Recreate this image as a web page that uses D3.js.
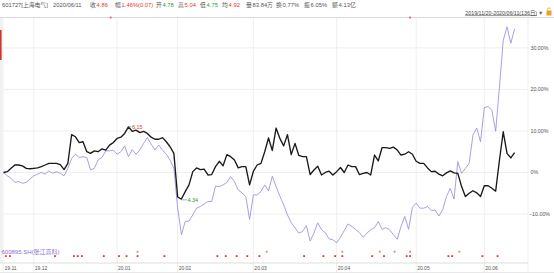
<!DOCTYPE html>
<html><head><meta charset="utf-8">
<script src="https://cdn.jsdelivr.net/npm/d3@7"></script>
<style>
body{margin:0;background:#fff}
svg{display:block}
text{font-family:"Liberation Sans","Noto Sans CJK SC",sans-serif}
</style>
</head><body>
<svg id="c" width="554" height="273"></svg>
<script>
// ---- data ----
const mainName = "601727[上海电气]";
const compareName = "600895.SH(张江高科)";
const headerDate = "2020/06/11";
const headerLabels = ["收", "幅", "开", "高", "低", "均", "量", "换", "振", "额"];
const headerValues = ["4.86", "1.46%(0.07)", "4.78", "5.04", "4.75", "4.92", "83.84万", "0.77%", "6.05%", "4.13亿"];
const headerTone = ["up", "up", "down", "up", "down", "up", "flat", "flat", "flat", "flat"];
const rangeText = "2019/11/20-2020/06/11(136日)";

const monthLabels = ["19.11", "19.12", "20.01", "20.02", "20.03", "20.04", "20.05", "20.06"];
const monthStartIdx = [0, 8, 30, 46, 66, 88, 109, 127];
const yTicks = [30, 20, 10, 0, -10];

// % change since 2019/11/20, 136 trading days
const mainPct = [
 0, 0.2, 1.0, 1.8, 1.8, 1.6, 1.0, 0.9, 1.0, 1.1,
 1.4, 1.8, 2.2, 2.2, 2.2, 1.9, 0.7, 2.2, 9.1, 8.6,
 7.2, 7.4, 5.0, 4.6, 5.2, 5.0, 5.7, 5.4, 6.6, 7.2,
 8.2, 8.5, 9.4, 11.0, 9.9, 10.2, 9.6, 9.9, 9.4, 8.5,
 8.0, 8.0, 8.4, 7.4, 6.2, 4.6, -5.9, -6.4,
 -4.6, -3.0, 0.2, 1.1, 0.7, 0.8, -0.6, -0.5, 1.4, 2.7,
 1.6, 4.3, 3.8, 3.0, 1.1, 1.4, 1.4, -3.0, 0.3, 1.8,
 2.2, 5.0, 8.3, 5.3, 10.7, 8.2, 6.4, 9.1, 4.3, 7.0,
 4.1, 3.8, 3.8, -0.5, 0.6, 1.5, -0.6, 0.0, 0.3, -0.6,
 0.2, 1.2, 0.0, 1.8, 1.4, 1.4, -0.5, -0.2, 0.0, -0.6,
 4.2, 2.8, 6.0, 6.0, 5.8, 6.1, 5.4, 4.2, 4.4, 5.0,
 4.4, 2.7, 2.2, 2.2, 1.1, 0.2, 0.3, -0.4, -0.8, -0.1,
 0.4, -0.1, -0.2, -3.4, -5.8, -5.0, -4.4, -4.9, -5.8, -3.2,
 -3.2, -3.8, -4.5, 3.0, 9.8, 4.6, 3.5, 4.8
];
const comparePct = [
 0, -0.8, -1.4, -2.4, -2.2, -2.6, -2.4, -1.6, -0.8, -0.4,
 0.0, -0.4, 0.4, -0.2, 0.2, -0.2, -0.8, 1.0, 3.4, 4.4,
 3.6, 3.8, 3.6, 0.6, 1.0, 3.0, 3.6, 5.2, 5.2, 5.4,
 4.4, 5.0, 6.4, 3.8, 5.5, 4.4, 5.4, 7.0, 8.4, 6.8,
 5.4, 6.6, 5.4, 4.4, 3.0, 1.0, -8.5, -15.0,
 -11.8, -11.7, -10.2, -8.6, -8.2, -7.6, -7.0, -7.0, -3.3, -3.4,
 -3.0, -2.4, -1.0, -2.2, -4.2, -4.9, -5.8, -11.3, -5.4, -5.4,
 -4.6, -3.0, -4.4, -0.9, -3.4, -5.7, -7.8, -10.2, -12.1, -13.3,
 -14.6, -14.2, -12.8, -16.5, -14.6, -12.1, -13.8, -14.5, -16.0, -16.2,
 -16.9, -15.6, -14.0, -12.4, -13.0, -13.7, -14.5, -15.6, -14.6, -13.8,
 -13.3, -11.8, -13.7, -13.3, -13.8, -15.0, -16.1, -13.0, -10.6, -13.7,
 -8.4, -7.4, -8.6, -8.6, -8.2, -9.2, -9.0, -10.5, -9.0, -5.8,
 -3.8, -6.4, 2.6, -0.2, 1.0, 2.2, 9.0, 10.7, 7.4, 15.6,
 15.9, 15.0, 9.9, 20.6, 31.8, 35.1, 31.1, 34.6
];
const highLabel = "6.15", highIdx = 33;
const lowLabel = "4.34", lowIdx = 47;

// event markers (position in trading-day units), kind: 0 lower dot, 1 upper dot, 2 both
const eventPos  = [0.6,1.7,13.6,18.6,19.6,20.7,26.5,30.5,32.5,35.4,42.5,56.5,58.7,61.6,64.4,67.6,69.5,79.4,84.5,87.6,89.5,97.4,99.4,100.5,103.3,106.5,107.4,117.5,118.5,120.4,126.5,130.5];
const eventKind = [0,0,0,0,0,0,0,0,0,2,0,0,0,0,0,0,1,0,0,0,2,0,1,0,1,0,2,0,0,1,0,0];
const topEventPos = [28.3, 107.4];

// ---- layout ----
const W = 554, H = 273;
const plotL = 3, plotR = 528, plotT = 18, plotB = 263;
const svg = d3.select("#c");
const x = d3.scaleLinear().domain([0, mainPct.length - 1]).range([3.5, 514.6]);
const y = d3.scaleLinear().domain([-21.8, 37.2]).range([plotB, plotT]);
const RED = "#e23a32", GREEN = "#2f9e33", GRAY = "#555", PURPLE = "#9d8be0";

// header: targets, pushed right if the previous item would overlap
const headerX = [2, 53, 90, 115, 154, 178, 200, 222, 246, 276, 304, 332];
const hdr = svg.append("g").attr("font-size", 5.8).attr("fill", GRAY);
let prevEnd = -10;
function place(t, k) {
  const xx = Math.max(headerX[k], prevEnd + 3.5);
  t.attr("x", xx);
  prevEnd = xx + t.node().getComputedTextLength();
}
place(hdr.append("text").attr("y", 7).text(mainName), 0);
place(hdr.append("text").attr("y", 7).text(headerDate), 1);
headerLabels.forEach((lab, k) => {
  const t = hdr.append("text").attr("y", 7);
  t.append("tspan").text(lab);
  t.append("tspan").attr("dx", 0.8)
    .attr("fill", headerTone[k] === "up" ? RED : headerTone[k] === "down" ? GREEN : GRAY)
    .text(headerValues[k]);
  place(t, k + 2);
});
svg.append("line").attr("x1", 0).attr("x2", W).attr("y1", 17.5).attr("y2", 17.5)
  .attr("stroke", "#cfcfcf").attr("stroke-width", 0.8);
svg.append("text").attr("x", 537).attr("y", 14.5).attr("text-anchor", "end")
  .attr("font-size", 5.3).attr("fill", "#444").attr("text-decoration", "underline").text(rangeText);
svg.append("text").attr("x", 538).attr("y", 14.5).attr("font-size", 5.5).attr("fill", "#666").text("▼");
svg.append("rect").attr("x", 546.5).attr("y", 10.5).attr("width", 5).attr("height", 5).attr("fill", "#f0a020");
svg.append("path").attr("d", "M547.6,10.8 v-1.6 a1.4,1.4 0 0 1 2.8,0").attr("fill", "none").attr("stroke", "#f0a020").attr("stroke-width", 0.7);

// left strip and red bar
svg.append("rect").attr("x", 0).attr("y", 18).attr("width", 2.5).attr("height", plotB - 18).attr("fill", "#f1f1f1");
svg.append("rect").attr("x", 0).attr("y", 30).attr("width", 1.6).attr("height", 30).attr("fill", "#d8322c");

// grid
const grid = svg.append("g").attr("stroke", "#ebebeb").attr("stroke-width", 0.8);
yTicks.forEach(v => grid.append("line").attr("x1", plotL).attr("x2", plotR).attr("y1", y(v)).attr("y2", y(v)));
monthStartIdx.slice(1).forEach(i => grid.append("line").attr("x1", x(i)).attr("x2", x(i)).attr("y1", plotT).attr("y2", H));
grid.append("line").attr("x1", plotR).attr("x2", plotR).attr("y1", plotT).attr("y2", H);
grid.append("line").attr("x1", plotL).attr("x2", plotL).attr("y1", plotT).attr("y2", H);

// bottom axis
svg.append("line").attr("x1", 0).attr("x2", plotR).attr("y1", plotB).attr("y2", plotB).attr("stroke", "#d6d6d6").attr("stroke-width", 0.8);
svg.append("line").attr("x1", 0).attr("x2", W).attr("y1", 272.5).attr("y2", 272.5).attr("stroke", "#e2e2e2").attr("stroke-width", 0.8);
svg.append("g").attr("font-size", 5).attr("fill", GRAY)
  .selectAll("text").data(monthLabels).join("text")
  .attr("x", (d, k) => Math.max(3, x(monthStartIdx[k]) + 1))
  .attr("y", 269.5).text(d => d);

// right axis
svg.append("g").attr("font-size", 5.3).attr("fill", GRAY)
  .selectAll("text").data(yTicks).join("text")
  .attr("x", v => v < 0 ? 529 : 530.5).attr("y", v => y(v) + 1.8)
  .text(v => v === 0 ? "0%" : d3.format(".2f")(v) + "%");

// lines
const line = d3.line().x((d, i) => x(i)).y(d => y(d));
svg.append("path").datum(comparePct).attr("d", line).attr("fill", "none")
  .attr("stroke", PURPLE).attr("stroke-width", 0.85).attr("stroke-linejoin", "round");
svg.append("path").datum(mainPct).attr("d", line).attr("fill", "none")
  .attr("stroke", "#1a1a1a").attr("stroke-width", 1.35).attr("stroke-linejoin", "round");

// high / low annotations
const hx = x(highIdx), hy = y(mainPct[highIdx]);
svg.append("line").attr("x1", hx).attr("x2", hx + 3).attr("y1", hy).attr("y2", hy).attr("stroke", "#4fc3d9").attr("stroke-width", 0.8);
svg.append("text").attr("x", hx + 3.5).attr("y", hy + 2.2).attr("font-size", 5.5).attr("fill", RED).text(highLabel);
const lx = x(lowIdx), ly = y(mainPct[lowIdx]) + 0.8;
svg.append("line").attr("x1", lx).attr("x2", lx + 5.5).attr("y1", ly).attr("y2", ly).attr("stroke", "#4fc3d9").attr("stroke-width", 0.8);
svg.append("text").attr("x", lx + 6).attr("y", ly + 2).attr("font-size", 5.5).attr("fill", GREEN).text(lowLabel);

// legend of comparison stock
svg.append("text").attr("x", 1.5).attr("y", 254).attr("font-size", 6).attr("fill", "#8a70d8").text(compareName);

// event markers
const ev = svg.append("g").attr("fill", "#e8332c");
eventPos.forEach((p, k) => {
  if (eventKind[k] !== 1) ev.append("rect").attr("x", x(p) - 0.9).attr("y", 255.2).attr("width", 1.8).attr("height", 1.8);
  if (eventKind[k] !== 0) ev.append("rect").attr("x", x(p) - 0.9).attr("y", 250.8).attr("width", 1.8).attr("height", 1.8).attr("fill", "#f07a7a");
});
topEventPos.forEach(p => ev.append("rect").attr("x", x(p) - 0.9).attr("y", 16.6).attr("width", 1.8).attr("height", 1.8).attr("fill", "#f05a5a"));
</script>
</body></html>
